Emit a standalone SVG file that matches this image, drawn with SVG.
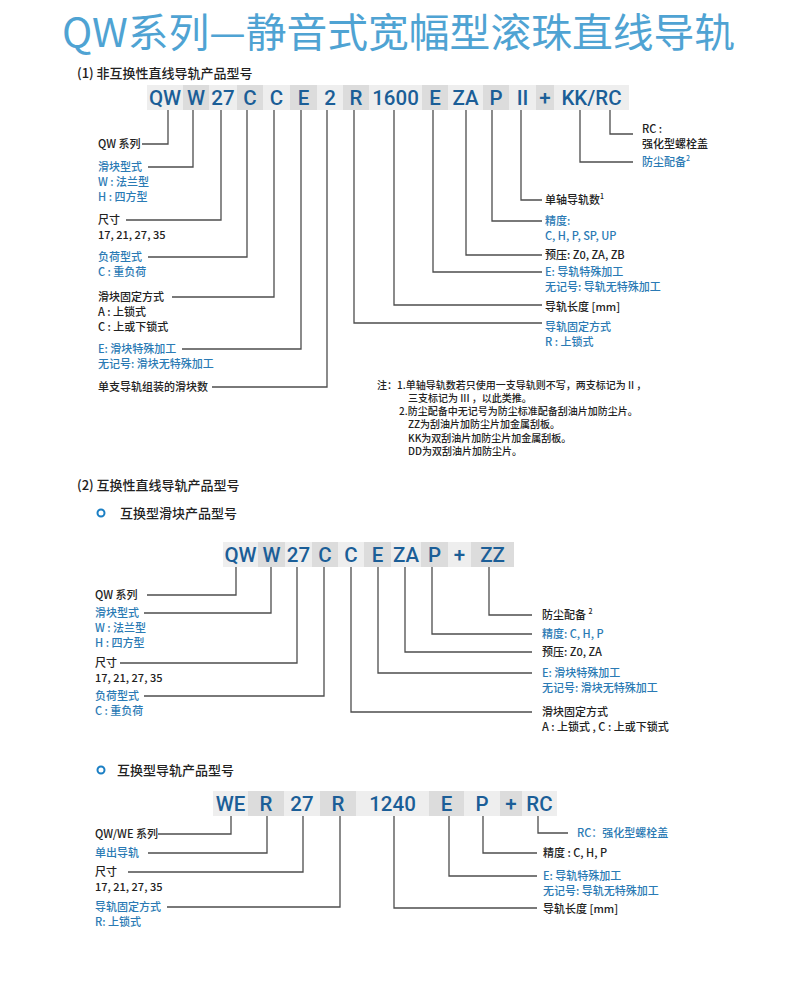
<svg xmlns="http://www.w3.org/2000/svg" width="800" height="994" viewBox="0 0 800 994">
<style>
.bg{fill:#ffffff}
.title{font-family:"Noto Sans CJK SC","Noto Sans",sans-serif;font-size:40px;fill:#4fa3d3}
.hd{font-family:"Noto Sans CJK SC",sans-serif;font-size:13px;fill:#222;font-weight:500}
.bl{fill:none;stroke:#1b7fc4;stroke-width:2}
.bxl{fill:#eeeeee}
.bxd{fill:#dcdcdc}
.code{font-family:Roboto,"Liberation Sans",sans-serif;font-size:20.5px;fill:#1b5e97;text-anchor:middle;font-weight:500}
.lb{font-family:"Noto Sans CJK SC",sans-serif;font-size:11px;fill:#222;font-weight:500}
.lbb{font-family:"Noto Sans CJK SC",sans-serif;font-size:11px;fill:#2a7ab4;font-weight:500}
.note{font-family:"Noto Sans CJK SC",sans-serif;font-size:10px;fill:#222;font-weight:500}
.sup{font-size:7px}
.cn{fill:none;stroke:#4d4d4d;stroke-width:1.3}
</style>
<rect class="bg" x="0" y="0" width="800" height="994"/>
<text class="title" x="62" y="47" textLength="673" lengthAdjust="spacingAndGlyphs">QW系列—静音式宽幅型滚珠直线导轨</text>

<g id="section1">
<text class="hd" x="77" y="78">(1) 非互换性直线导轨产品型号</text>
<g id="code1">
<rect class="bxl" x="147" y="85" width="36" height="25"/><text class="code" x="165" y="105">QW</text>
<rect class="bxd" x="183" y="85" width="26" height="25"/><text class="code" x="196" y="105">W</text>
<rect class="bxl" x="209" y="85" width="28" height="25"/><text class="code" x="223" y="105">27</text>
<rect class="bxd" x="237" y="85" width="26" height="25"/><text class="code" x="250" y="105">C</text>
<rect class="bxl" x="263" y="85" width="27" height="25"/><text class="code" x="276.5" y="105">C</text>
<rect class="bxd" x="290" y="85" width="27" height="25"/><text class="code" x="303.5" y="105">E</text>
<rect class="bxl" x="317" y="85" width="26" height="25"/><text class="code" x="330" y="105">2</text>
<rect class="bxd" x="343" y="85" width="26" height="25"/><text class="code" x="356" y="105">R</text>
<rect class="bxl" x="369" y="85" width="53" height="25"/><text class="code" x="395.5" y="105">1600</text>
<rect class="bxd" x="422" y="85" width="26" height="25"/><text class="code" x="435" y="105">E</text>
<rect class="bxl" x="448" y="85" width="35" height="25"/><text class="code" x="465.5" y="105">ZA</text>
<rect class="bxd" x="483" y="85" width="26" height="25"/><text class="code" x="496" y="105">P</text>
<rect class="bxl" x="509" y="85" width="27" height="25"/><text class="code" x="522.5" y="105">II</text>
<rect class="bxd" x="536" y="85" width="18" height="25"/><text class="code" x="545" y="105">+</text>
<rect class="bxl" x="554" y="85" width="75" height="25"/><text class="code" x="591.5" y="105">KK/RC</text>
</g>
<g id="connectors1">
<path class="cn" d="M168 110V144H142"/>
<path class="cn" d="M193 110V167H148"/>
<path class="cn" d="M221 110V220H126"/>
<path class="cn" d="M247 110V257H148"/>
<path class="cn" d="M274 110V297H172"/>
<path class="cn" d="M301 110V349H182"/>
<path class="cn" d="M327 110V387H212"/>
<path class="cn" d="M354 110V323H542"/>
<path class="cn" d="M394 110V305H542"/>
<path class="cn" d="M433 110V272H542"/>
<path class="cn" d="M466 110V255H542"/>
<path class="cn" d="M492 110V221H542"/>
<path class="cn" d="M521 110V200H542"/>
<path class="cn" d="M580 110V162H633"/>
<path class="cn" d="M610 110V134H633"/>
</g>
<g id="labels1-left">
<text class="lb" x="98" y="148">QW 系列</text>
<text class="lbb" x="98" y="171">滑块型式</text>
<text class="lbb" x="98" y="186">W : 法兰型</text>
<text class="lbb" x="98" y="201">H : 四方型</text>
<text class="lb" x="98" y="224">尺寸</text>
<text class="lb" x="98" y="239">17, 21, 27, 35</text>
<text class="lbb" x="98" y="261">负荷型式</text>
<text class="lbb" x="98" y="276">C : 重负荷</text>
<text class="lb" x="98" y="301">滑块固定方式</text>
<text class="lb" x="98" y="316">A : 上锁式</text>
<text class="lb" x="98" y="331">C : 上或下锁式</text>
<text class="lbb" x="98" y="353">E: 滑块特殊加工</text>
<text class="lbb" x="98" y="368">无记号: 滑块无特殊加工</text>
<text class="lb" x="98" y="391">单支导轨组装的滑块数</text>
</g>
<g id="labels1-right">
<text class="lb" x="642" y="133">RC :</text>
<text class="lb" x="642" y="148">强化型螺栓盖</text>
<text class="lbb" x="642" y="166">防尘配备<tspan class="sup" dy="-5">2</tspan></text>
<text class="lb" x="545" y="204">单轴导轨数<tspan class="sup" dy="-5">1</tspan></text>
<text class="lbb" x="545" y="225">精度:</text>
<text class="lbb" x="545" y="240">C, H, P, SP, UP</text>
<text class="lb" x="545" y="259">预压: Z0, ZA, ZB</text>
<text class="lbb" x="545" y="276">E: 导轨特殊加工</text>
<text class="lbb" x="545" y="291">无记号: 导轨无特殊加工</text>
<text class="lb" x="545" y="311">导轨长度 [mm]</text>
<text class="lbb" x="545" y="331">导轨固定方式</text>
<text class="lbb" x="545" y="346">R : 上锁式</text>
</g>
<g id="notes">
<text class="note" x="377" y="389">注：1.单轴导轨数若只使用一支导轨则不写，两支标记为 II ，</text>
<text class="note" x="408" y="402">三支标记为 III ，以此类推。</text>
<text class="note" x="399" y="415">2.防尘配备中无记号为防尘标准配备刮油片加防尘片。</text>
<text class="note" x="408" y="428">ZZ为刮油片加防尘片加金属刮板。</text>
<text class="note" x="408" y="442">KK为双刮油片加防尘片加金属刮板。</text>
<text class="note" x="408" y="455">DD为双刮油片加防尘片。</text>
</g>
</g>

<g id="section2">
<text class="hd" x="77" y="490">(2) 互换性直线导轨产品型号</text>
<circle class="bl" cx="101" cy="513" r="3.5"/>
<text class="hd" x="120" y="518">互换型滑块产品型号</text>
<g id="code2">
<rect class="bxl" x="223" y="542" width="35" height="25"/><text class="code" x="240.5" y="562">QW</text>
<rect class="bxd" x="258" y="542" width="27" height="25"/><text class="code" x="271.5" y="562">W</text>
<rect class="bxl" x="285" y="542" width="27" height="25"/><text class="code" x="298.5" y="562">27</text>
<rect class="bxd" x="312" y="542" width="26" height="25"/><text class="code" x="325" y="562">C</text>
<rect class="bxl" x="338" y="542" width="26" height="25"/><text class="code" x="351" y="562">C</text>
<rect class="bxd" x="364" y="542" width="27" height="25"/><text class="code" x="377.5" y="562">E</text>
<rect class="bxl" x="391" y="542" width="30" height="25"/><text class="code" x="406" y="562">ZA</text>
<rect class="bxd" x="421" y="542" width="27" height="25"/><text class="code" x="434.5" y="562">P</text>
<rect class="bxl" x="448" y="542" width="23" height="25"/><text class="code" x="459.5" y="562">+</text>
<rect class="bxd" x="471" y="542" width="43" height="25"/><text class="code" x="492.5" y="562">ZZ</text>
</g>
<g id="connectors2">
<path class="cn" d="M236 567V595H147"/>
<path class="cn" d="M271 567V613H144"/>
<path class="cn" d="M297 567V663H120"/>
<path class="cn" d="M324 567V696H144"/>
<path class="cn" d="M351 567V712H532"/>
<path class="cn" d="M378 567V673H532"/>
<path class="cn" d="M405 567V652H532"/>
<path class="cn" d="M432 567V634H532"/>
<path class="cn" d="M489 567V615H532"/>
</g>
<g id="labels2-left">
<text class="lb" x="95" y="599">QW 系列</text>
<text class="lbb" x="95" y="617">滑块型式</text>
<text class="lbb" x="95" y="632">W : 法兰型</text>
<text class="lbb" x="95" y="647">H : 四方型</text>
<text class="lb" x="95" y="667">尺寸</text>
<text class="lb" x="95" y="682">17, 21, 27, 35</text>
<text class="lbb" x="95" y="700">负荷型式</text>
<text class="lbb" x="95" y="715">C : 重负荷</text>
</g>
<g id="labels2-right">
<text class="lb" x="542" y="619">防尘配备 <tspan class="sup" dy="-5">2</tspan></text>
<text class="lbb" x="542" y="638">精度: C, H, P</text>
<text class="lb" x="542" y="656">预压: Z0, ZA</text>
<text class="lbb" x="542" y="677">E: 滑块特殊加工</text>
<text class="lbb" x="542" y="692">无记号: 滑块无特殊加工</text>
<text class="lb" x="542" y="716">滑块固定方式</text>
<text class="lb" x="542" y="731">A : 上锁式 , C : 上或下锁式</text>
</g>
</g>

<g id="section3">
<circle class="bl" cx="101" cy="770" r="3.5"/>
<text class="hd" x="117" y="775">互换型导轨产品型号</text>
<g id="code3">
<rect class="bxl" x="213" y="791" width="35" height="25"/><text class="code" x="230.5" y="811">WE</text>
<rect class="bxd" x="248" y="791" width="36" height="25"/><text class="code" x="266" y="811">R</text>
<rect class="bxl" x="284" y="791" width="36" height="25"/><text class="code" x="302" y="811">27</text>
<rect class="bxd" x="320" y="791" width="36" height="25"/><text class="code" x="338" y="811">R</text>
<rect class="bxl" x="356" y="791" width="73" height="25"/><text class="code" x="392.5" y="811">1240</text>
<rect class="bxd" x="429" y="791" width="35" height="25"/><text class="code" x="446.5" y="811">E</text>
<rect class="bxl" x="464" y="791" width="36" height="25"/><text class="code" x="482" y="811">P</text>
<rect class="bxd" x="500" y="791" width="22" height="25"/><text class="code" x="511" y="811">+</text>
<rect class="bxl" x="522" y="791" width="35" height="25"/><text class="code" x="539.5" y="811">RC</text>
</g>
<g id="connectors3">
<path class="cn" d="M231 816V834H158"/>
<path class="cn" d="M267 816V853H148"/>
<path class="cn" d="M303 816V872H128"/>
<path class="cn" d="M340 816V907H167"/>
<path class="cn" d="M394 816V908H537"/>
<path class="cn" d="M449 816V876H537"/>
<path class="cn" d="M483 816V853H537"/>
<path class="cn" d="M538 816V833H568"/>
</g>
<g id="labels3-left">
<text class="lb" x="95" y="838">QW/WE 系列</text>
<text class="lbb" x="95" y="857">单出导轨</text>
<text class="lb" x="95" y="876">尺寸</text>
<text class="lb" x="95" y="891">17, 21, 27, 35</text>
<text class="lbb" x="95" y="911">导轨固定方式</text>
<text class="lbb" x="95" y="926">R: 上锁式</text>
</g>
<g id="labels3-right">
<text class="lbb" x="577" y="837">RC：强化型螺栓盖</text>
<text class="lb" x="543" y="857">精度 : C, H, P</text>
<text class="lbb" x="543" y="880">E: 导轨特殊加工</text>
<text class="lbb" x="543" y="895">无记号: 导轨无特殊加工</text>
<text class="lb" x="543" y="913">导轨长度 [mm]</text>
</g>
</g>
</svg>
